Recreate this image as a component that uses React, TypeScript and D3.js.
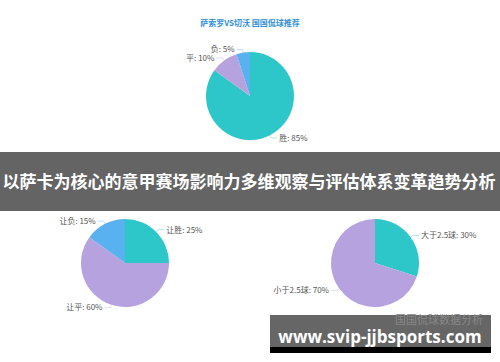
import React from "react";
import * as d3 from "d3";

const chartTitle = "萨索罗VS切沃 国国侃球推荐";
const bannerText = "以萨卡为核心的意甲赛场影响力多维观察与评估体系变革趋势分析";
const watermarkText = "www.svip-jjbsports.com";
const watermarkSub = "国国侃球数据分析";

const resultLabels = ["胜", "平", "负"];
const resultValues = [85, 10, 5];
const handicapLabels = ["让胜", "让平", "让负"];
const handicapValues = [25, 60, 15];
const goalsLabels = ["大于2.5球", "小于2.5球"];
const goalsValues = [30, 70];

const palette = ["#2ec7c9", "#b6a2de", "#5ab1ef"];

type PieProps = { cx: number; cy: number; r: number; labels: string[]; values: number[] };

function Pie({ cx, cy, r, labels, values }: PieProps) {
  const data = labels.map((l, i) => ({ label: l, value: values[i] }));
  const pie = d3.pie<{ label: string; value: number }>().value((d) => d.value).sort(null);
  const arcs = pie(data);
  const arc = d3.arc<d3.PieArcDatum<{ label: string; value: number }>>().innerRadius(0).outerRadius(r);
  const total = d3.sum(values);
  return (
    <g transform={`translate(${cx},${cy})`}>
      {arcs.map((a, i) => (
        <path key={i} d={arc(a) || ""} fill={palette[i % palette.length]} />
      ))}
      {arcs.map((a, i) => {
        const mid = (a.startAngle + a.endAngle) / 2;
        const sx = Math.sin(mid), sy = -Math.cos(mid);
        const x1 = sx * r, y1 = sy * r;
        const x2 = sx * (r + 3), y2 = sy * (r + 3);
        const right = sx >= 0;
        const x3 = x2 + (right ? 6 : -6);
        const tx = x3 + (right ? 2 : -2);
        const pct = Math.round((a.data.value / total) * 100);
        return (
          <g key={"l" + i}>
            <polyline
              points={`${x1},${y1} ${x2},${y2} ${x3},${y2}`}
              fill="none"
              stroke={palette[i % palette.length]}
              strokeOpacity={0.5}
              strokeWidth={0.8}
            />
            <text
              x={tx}
              y={y2}
              dy="0.35em"
              textAnchor={right ? "start" : "end"}
              fontSize={8}
              fill="#555"
              fontFamily="'Noto Sans CJK SC', 'Noto Sans', sans-serif"
            >
              {`${a.data.label}: ${pct}%`}
            </text>
          </g>
        );
      })}
    </g>
  );
}

export default function App() {
  return (
    <svg
      width={500}
      height={362}
      style={{ position: "absolute", left: 0, top: 0, background: "#fff" }}
      fontFamily="'Noto Sans CJK SC', sans-serif"
    >
      <rect x={0} y={0} width={500} height={362} fill="#fff" />
      <text x={250} y={23} dy="0.35em" textAnchor="middle" fontSize={8} fontWeight="bold" fill="#2f8fd8">
        {chartTitle}
      </text>
      <Pie cx={250} cy={96} r={44} labels={resultLabels} values={resultValues} />
      <Pie cx={125} cy={263} r={44} labels={handicapLabels} values={handicapValues} />
      <Pie cx={375} cy={263} r={44} labels={goalsLabels} values={goalsValues} />

      <rect x={0} y={152} width={500} height={59} fill="#646464" />
      <text x={249} y={182} dy="0.35em" textAnchor="middle" fontSize={17} fontWeight="bold" fill="#fff">
        {bannerText}
      </text>

      <rect x={270} y={315} width={221} height={32} fill="#666" />
      <rect x={270} y={347} width={221} height={6} fill="#000" />
      <text x={483} y={324} textAnchor="end" fontSize={11} fill="#888">
        {watermarkSub}
      </text>
      <text
        x={380}
        y={343}
        textAnchor="middle"
        fontSize={17}
        fontWeight="bold"
        fill="#fff"
        fontFamily="'Open Sans', 'DejaVu Sans', sans-serif"
      >
        {watermarkText}
      </text>
    </svg>
  );
}
